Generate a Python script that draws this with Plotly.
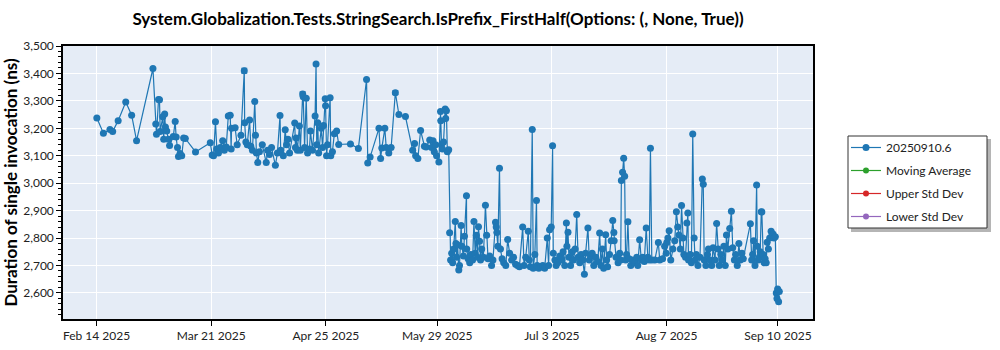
import plotly.graph_objects as go

dates = [
"2025-02-14 02:00","2025-02-16 02:00","2025-02-18 02:00","2025-02-18 22:00","2025-02-20 14:00","2025-02-22 22:00","2025-02-24 17:00","2025-02-26 05:00",
"2025-03-03 05:00","2025-03-04 02:00","2025-03-04 07:00","2025-03-04 22:00","2025-03-05 05:00","2025-03-05 10:00","2025-03-06 05:00","2025-03-06 12:00",
"2025-03-06 19:00","2025-03-07 00:00","2025-03-07 10:00","2025-03-07 22:00","2025-03-08 07:00","2025-03-09 10:00","2025-03-10 00:00","2025-03-10 07:00",
"2025-03-10 17:00","2025-03-11 00:00","2025-03-11 12:00","2025-03-12 00:00","2025-03-12 14:00","2025-03-13 02:00","2025-03-16 05:00","2025-03-20 17:00",
"2025-03-21 07:00","2025-03-21 17:00","2025-03-22 07:00","2025-03-22 17:00","2025-03-23 05:00","2025-03-23 19:00","2025-03-24 12:00","2025-03-25 00:00",
"2025-03-25 14:00","2025-03-26 05:00","2025-03-26 19:00","2025-03-27 02:00","2025-03-27 05:00","2025-03-28 07:00","2025-03-28 22:00","2025-03-30 02:00",
"2025-03-31 02:00","2025-03-31 05:00","2025-03-31 14:00","2025-04-01 00:00","2025-04-01 17:00","2025-04-02 02:00","2025-04-02 14:00","2025-04-03 07:00",
"2025-04-03 12:00","2025-04-03 19:00","2025-04-04 05:00","2025-04-04 17:00","2025-04-05 14:00","2025-04-06 19:00","2025-04-07 05:00","2025-04-07 19:00",
"2025-04-08 10:00","2025-04-09 14:00","2025-04-10 05:00","2025-04-11 00:00","2025-04-11 05:00","2025-04-12 00:00","2025-04-12 14:00","2025-04-13 00:00",
"2025-04-13 10:00","2025-04-13 22:00","2025-04-15 12:00","2025-04-15 17:00","2025-04-15 22:00","2025-04-16 07:00","2025-04-16 22:00","2025-04-17 05:00",
"2025-04-17 22:00","2025-04-18 02:00","2025-04-18 12:00","2025-04-19 00:00","2025-04-19 10:00","2025-04-20 00:00","2025-04-20 07:00","2025-04-20 22:00",
"2025-04-21 17:00","2025-04-22 00:00","2025-04-22 05:00","2025-04-22 12:00","2025-04-22 19:00","2025-04-23 14:00","2025-04-24 00:00","2025-04-24 07:00",
"2025-04-24 19:00","2025-04-24 22:00","2025-04-25 05:00","2025-04-25 12:00","2025-04-26 07:00","2025-04-26 12:00","2025-04-27 00:00","2025-04-27 14:00",
"2025-04-28 07:00","2025-04-28 22:00","2025-05-02 12:00","2025-05-04 22:00","2025-05-07 10:00","2025-05-07 19:00","2025-05-08 12:00","2025-05-11 05:00",
"2025-05-11 17:00","2025-05-12 02:00","2025-05-13 00:00","2025-05-13 10:00","2025-05-14 05:00","2025-05-14 22:00","2025-05-16 05:00","2025-05-17 07:00",
"2025-05-19 07:00","2025-05-21 12:00","2025-05-22 02:00","2025-05-22 10:00","2025-05-23 02:00","2025-05-23 22:00","2025-05-25 02:00","2025-05-25 14:00",
"2025-05-26 17:00","2025-05-27 07:00","2025-05-27 17:00","2025-05-28 02:00","2025-05-28 12:00","2025-05-28 19:00","2025-05-29 12:00","2025-05-30 00:00",
"2025-05-30 02:00","2025-05-30 07:00","2025-05-30 14:00","2025-05-30 22:00","2025-05-31 10:00","2025-05-31 14:00","2025-05-31 19:00","2025-06-01 02:00",
"2025-06-01 12:00","2025-06-01 19:00","2025-06-02 02:00","2025-06-02 10:00","2025-06-02 17:00","2025-06-03 00:00","2025-06-03 12:00","2025-06-03 17:00",
"2025-06-03 22:00","2025-06-04 05:00","2025-06-04 14:00","2025-06-04 19:00","2025-06-05 07:00","2025-06-05 12:00","2025-06-06 00:00","2025-06-06 07:00",
"2025-06-06 22:00","2025-06-07 00:00","2025-06-07 10:00","2025-06-07 22:00","2025-06-08 07:00","2025-06-08 19:00","2025-06-09 05:00","2025-06-09 14:00",
"2025-06-09 22:00","2025-06-10 07:00","2025-06-10 14:00","2025-06-10 22:00","2025-06-11 05:00","2025-06-11 14:00","2025-06-12 02:00","2025-06-12 17:00",
"2025-06-13 02:00","2025-06-13 12:00","2025-06-14 00:00","2025-06-14 14:00","2025-06-15 00:00","2025-06-15 19:00","2025-06-16 00:00","2025-06-16 05:00",
"2025-06-16 12:00","2025-06-17 00:00","2025-06-17 07:00","2025-06-17 19:00","2025-06-18 07:00","2025-06-18 22:00","2025-06-19 12:00","2025-06-20 02:00",
"2025-06-20 17:00","2025-06-21 07:00","2025-06-21 22:00","2025-06-22 12:00","2025-06-23 02:00","2025-06-24 02:00","2025-06-24 12:00","2025-06-25 00:00",
"2025-06-25 19:00","2025-06-26 02:00","2025-06-26 10:00","2025-06-27 00:00","2025-06-27 07:00","2025-06-27 19:00","2025-06-28 07:00","2025-06-28 12:00",
"2025-06-29 00:00","2025-06-29 14:00","2025-06-30 05:00","2025-06-30 19:00","2025-07-01 14:00","2025-07-02 00:00","2025-07-02 07:00","2025-07-02 19:00",
"2025-07-03 05:00","2025-07-03 10:00","2025-07-03 22:00","2025-07-04 07:00","2025-07-04 19:00","2025-07-05 10:00","2025-07-06 00:00","2025-07-06 10:00",
"2025-07-06 22:00","2025-07-07 10:00","2025-07-07 14:00","2025-07-07 22:00","2025-07-08 05:00","2025-07-08 17:00","2025-07-09 05:00","2025-07-09 14:00",
"2025-07-10 02:00","2025-07-10 14:00","2025-07-11 00:00","2025-07-11 12:00","2025-07-11 22:00","2025-07-12 10:00","2025-07-12 22:00","2025-07-13 07:00",
"2025-07-14 00:00","2025-07-14 10:00","2025-07-14 19:00","2025-07-15 07:00","2025-07-15 19:00","2025-07-16 10:00","2025-07-17 00:00","2025-07-17 14:00",
"2025-07-18 00:00","2025-07-18 10:00","2025-07-18 19:00","2025-07-19 10:00","2025-07-19 17:00","2025-07-20 00:00","2025-07-20 14:00","2025-07-21 02:00",
"2025-07-21 14:00","2025-07-21 22:00","2025-07-22 00:00","2025-07-22 14:00","2025-07-23 05:00","2025-07-23 17:00","2025-07-24 00:00","2025-07-24 05:00",
"2025-07-24 14:00","2025-07-24 22:00","2025-07-25 05:00","2025-07-25 12:00","2025-07-25 19:00","2025-07-26 05:00","2025-07-26 14:00","2025-07-27 02:00",
"2025-07-27 17:00","2025-07-28 07:00","2025-07-28 22:00","2025-07-29 05:00","2025-07-29 19:00","2025-07-30 07:00","2025-07-30 17:00","2025-07-31 05:00",
"2025-07-31 19:00","2025-08-01 07:00","2025-08-01 17:00","2025-08-02 02:00","2025-08-02 12:00","2025-08-03 10:00","2025-08-04 12:00","2025-08-04 22:00",
"2025-08-05 19:00","2025-08-06 10:00","2025-08-06 22:00","2025-08-07 02:00","2025-08-07 10:00","2025-08-07 19:00","2025-08-08 07:00","2025-08-08 22:00",
"2025-08-09 12:00","2025-08-10 00:00","2025-08-10 10:00","2025-08-10 19:00","2025-08-11 05:00","2025-08-11 14:00","2025-08-12 00:00","2025-08-12 07:00",
"2025-08-12 19:00","2025-08-13 05:00","2025-08-13 12:00","2025-08-13 17:00","2025-08-14 05:00","2025-08-14 14:00","2025-08-15 00:00","2025-08-15 10:00",
"2025-08-15 17:00","2025-08-16 02:00","2025-08-16 14:00","2025-08-17 05:00","2025-08-17 22:00","2025-08-18 05:00","2025-08-18 12:00","2025-08-19 00:00",
"2025-08-19 12:00","2025-08-19 19:00","2025-08-20 05:00","2025-08-20 19:00","2025-08-21 05:00","2025-08-21 19:00","2025-08-22 07:00","2025-08-22 17:00",
"2025-08-23 02:00","2025-08-23 14:00","2025-08-24 00:00","2025-08-24 12:00","2025-08-24 22:00","2025-08-25 07:00","2025-08-25 17:00","2025-08-26 07:00",
"2025-08-26 19:00","2025-08-27 05:00","2025-08-27 17:00","2025-08-28 02:00","2025-08-28 14:00","2025-08-29 02:00","2025-08-29 12:00","2025-08-30 00:00",
"2025-08-30 10:00","2025-09-01 14:00","2025-09-02 00:00","2025-09-02 07:00","2025-09-02 14:00","2025-09-03 00:00","2025-09-03 12:00","2025-09-03 17:00",
"2025-09-04 00:00","2025-09-04 07:00","2025-09-04 14:00","2025-09-04 22:00","2025-09-05 02:00","2025-09-05 12:00","2025-09-05 19:00","2025-09-06 02:00",
"2025-09-06 10:00","2025-09-06 17:00","2025-09-07 02:00","2025-09-07 12:00","2025-09-07 22:00","2025-09-08 05:00","2025-09-08 12:00","2025-09-08 19:00",
"2025-09-09 05:00","2025-09-09 12:00","2025-09-09 17:00","2025-09-09 22:00","2025-09-10 05:00","2025-09-10 10:00",
]

values = [
3238,3182,3196,3188,3228,3296,3248,3155,
3418,3216,3178,3305,3304,3188,3242,3160,
3252,3205,3190,3160,3137,3170,3225,3168,
3130,3097,3108,3100,3165,3163,3114,3147,
3103,3100,3224,3125,3110,3130,3155,3120,
3132,3245,3248,3125,3200,3202,3140,3175,
3410,3220,3150,3140,3230,3135,3120,3298,
3175,3110,3075,3115,3140,3075,3120,3105,
3130,3065,3110,3247,3120,3100,3195,3140,
3160,3110,3219,3130,3165,3120,3208,3120,
3325,3315,3130,3310,3110,3125,3190,3120,
3245,3434,3140,3220,3110,3200,3130,3210,
3308,3282,3100,3140,3311,3100,3115,3180,
3190,3141,3143,3126,3378,3074,3095,3200,
3090,3128,3200,3130,3110,3130,3330,3250,
3243,3120,3145,3100,3090,3192,3135,3132,
3157,3130,3155,3115,3140,3100,3077,3261,
3228,3140,3125,3150,3270,3236,3264,3115,
3122,2819,2720,2745,2710,2760,2860,2780,
2730,2775,2684,2700,2846,2770,2735,2807,
2954,2760,2725,2710,2740,2720,2860,2745,
2810,2730,2841,2788,2720,2760,2730,2920,
2810,2725,2735,2700,2720,2858,2840,2820,
2770,3054,2760,2725,2710,2700,2795,2745,
2720,2730,2705,2700,2695,2840,2700,2730,
2825,2720,2695,3196,2690,2740,2937,2700,
2690,2695,2700,2690,2800,2700,2830,2840,
3136,2745,2720,2700,2710,2735,2720,2750,
2700,2855,2770,2821,2730,2700,2750,2720,
2760,2886,2730,2710,2740,2720,2668,2745,
2837,2720,2735,2745,2700,2730,2715,2818,
2700,2760,2690,2812,2720,2695,2740,2790,
2864,2820,2790,2730,2710,2745,2720,3010,
3040,3091,3025,2720,2740,2859,2725,2700,
2720,2710,2730,2700,2794,2720,2730,2715,
2837,2730,2720,3127,2720,2720,2784,2720,
2725,2770,2745,2784,2800,2827,2720,2760,
2790,2896,2840,2811,2760,2919,2800,2740,
2730,2855,2891,2720,2740,2710,3179,2800,
2720,2740,2700,2730,3015,2996,2720,2700,
2740,2760,2720,2700,2765,2720,2853,2760,
2700,2740,2720,2770,2700,2811,2760,2835,
2898,2765,2720,2740,2700,2780,2720,2745,
2725,2852,2720,2740,2790,2700,2993,2770,
2720,2730,2750,2896,2895,2740,2710,2725,
2710,2785,2760,2800,2825,2810,2815,2800,
2805,2600,2580,2614,2568,2605,
]
assert len(dates) == len(values), (len(dates), len(values))

# error bars visible on a few points
err_dates = ["2025-03-31 02:00", "2025-04-17 22:00", "2025-05-16 05:00"]
err_values = [9, 8, 7]

tick_dates = ["2025-02-14", "2025-03-21", "2025-04-25", "2025-05-29", "2025-07-03", "2025-08-07", "2025-09-10"]
tick_labels = ["Feb 14 2025", "Mar 21 2025", "Apr 25 2025", "May 29 2025", "Jul 3 2025", "Aug 7 2025", "Sep 10 2025"]

series_name = "20250910.6"
extra_series = ["Moving Average", "Upper Std Dev", "Lower Std Dev"]
extra_colors = ["#2ca02c", "#d62728", "#9467bd"]

err_map = dict(zip(err_dates, err_values))
err_array = [err_map.get(d, 0) for d in dates]

FONT = "Segoe UI, Lato, Noto Sans, sans-serif"

# plot area in pixels (for positioning the legend box)
L, R, T, B = 63, 813, 46, 319
W, H = R - L, B - T
def px(x):
    return (x - L) / W
def py(y):
    return (B - y) / H

fig = go.Figure()
fig.add_trace(go.Scatter(
    x=dates, y=values, mode="lines+markers", name=series_name,
    line=dict(color="#1f77b4", width=1.2),
    marker=dict(size=7, color="#1f77b4"),
    error_y=dict(type="data", array=err_array, visible=True, color="#1f77b4", thickness=1, width=3),
    legendgroup="a",
))
for i, (nm, col) in enumerate(zip(extra_series, extra_colors)):
    fig.add_trace(go.Scatter(
        x=[None], y=[None], mode="lines+markers", name=nm,
        line=dict(color=col, width=1.2), marker=dict(size=6, color=col),
        legendgroup="g%d" % i,
    ))

# legend frame with drop shadow
fig.add_shape(type="rect", xref="paper", yref="paper",
              x0=px(851), x1=px(991), y0=py(232), y1=py(139),
              line=dict(width=0), fillcolor="rgba(120,120,120,0.55)", layer="above")
fig.add_shape(type="rect", xref="paper", yref="paper",
              x0=px(848), x1=px(987), y0=py(228), y1=py(136),
              line=dict(width=1, color="#333"), fillcolor="white", layer="above")

fig.update_layout(
    width=1000, height=350,
    margin=dict(l=L, r=1000 - R, t=T, b=350 - B),
    paper_bgcolor="white", plot_bgcolor="#e5ecf6",
    font=dict(family=FONT, size=12, color="#222"),
    title=dict(text="<b>System.Globalization.Tests.StringSearch.IsPrefix_FirstHalf(Options: (, None, True))</b>",
               x=0.5, xref="paper", xanchor="center", y=1 - 19 / 350, yanchor="middle",
               font=dict(family=FONT, size=17, color="black")),
    showlegend=True,
    legend=dict(x=px(846), y=py(133), xanchor="left", yanchor="top",
                bgcolor="rgba(0,0,0,0)", borderwidth=0,
                font=dict(family=FONT, size=12, color="#222"),
                tracegroupgap=4),
    xaxis=dict(type="date", range=["2025-02-03 18:00", "2025-09-20 17:00"],
               tickvals=tick_dates, ticktext=tick_labels, automargin=False,
               showgrid=True, gridcolor="white", gridwidth=1,
               showline=True, linecolor="black", linewidth=1.5, mirror=True,
               ticks="outside", ticklen=5, tickcolor="black", zeroline=False),
    yaxis=dict(range=[2505, 3500], dtick=100, tick0=2500, tickformat=",", automargin=False,
               showgrid=True, gridcolor="white", gridwidth=1,
               showline=True, linecolor="black", linewidth=1.5, mirror=True,
               ticks="outside", ticklen=5, tickcolor="black", zeroline=False,
               minor=dict(dtick=20, tick0=2500, ticks="outside", ticklen=3, tickcolor="black", showgrid=False),
               title=dict(text="<b>Duration of single invocation (ns)</b>", font=dict(family=FONT, size=17, color="black"), standoff=8)),
)

fig.write_html("out.html")
